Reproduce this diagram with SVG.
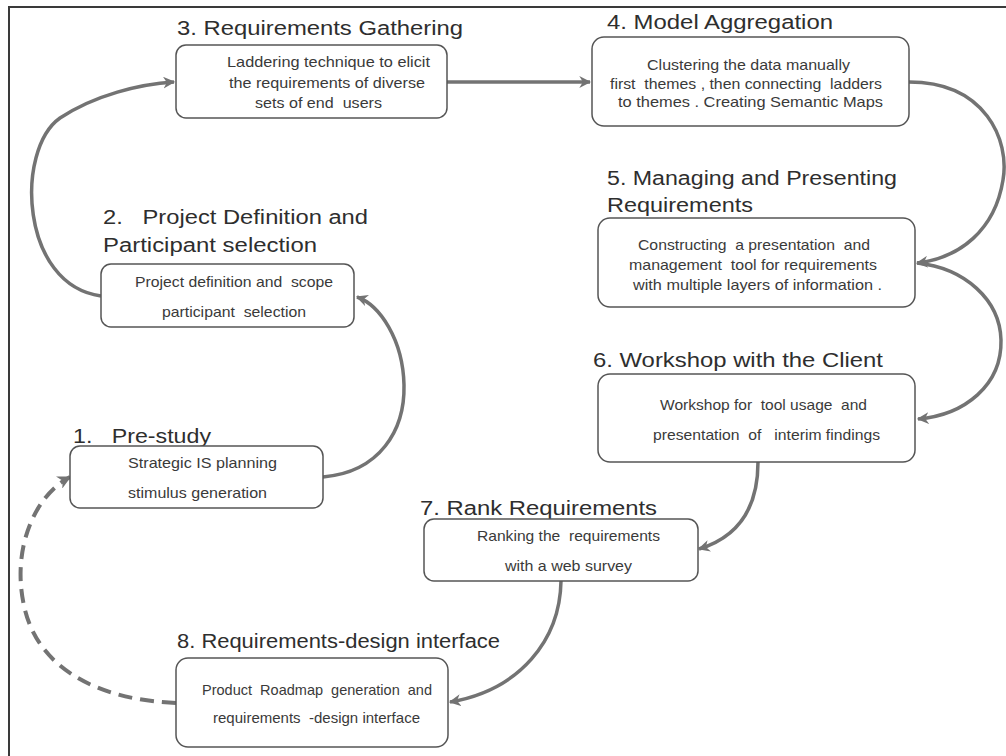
<svg xmlns="http://www.w3.org/2000/svg" width="1006" height="756" viewBox="0 0 1006 756">
  <style>
    .frame { stroke: #3a3a3a; stroke-width: 2; fill: none; }
    .box { fill: #ffffff; stroke: #555555; stroke-width: 1.5; }
    .title { font-family: "Liberation Sans", Arial, sans-serif; font-size: 20px; fill: #2e2e2e; }
    .body { font-family: "Liberation Sans", Arial, sans-serif; font-size: 15px; fill: #3a3a3a; }
    .flow { fill: none; stroke: #737373; stroke-width: 3.5; stroke-linecap: butt; }
    .dashed { stroke-dasharray: 14 8; stroke-width: 4; }
  </style>
  <defs>
    <marker id="arrow" viewBox="0 0 10 10" refX="9" refY="5" markerWidth="3.4" markerHeight="3.4" orient="auto" markerUnits="strokeWidth">
      <path d="M0,0 L10,5 L0,10 L3,5 Z" fill="#737373"/>
    </marker>
  </defs>

  <rect width="1006" height="756" fill="#ffffff"/>
  <!-- outer frame: top and left edges -->
  <path class="frame" d="M9,756 L9,7 L1006,7"/>

  <!-- connectors -->
  <g id="connectors">
    <path class="flow" marker-end="url(#arrow)" d="M101,296 C 20,285 15,150 60,118 C 95,95 140,84 174,82"/>
    <path class="flow" marker-end="url(#arrow)" d="M447,82 L590,82"/>
    <path class="flow" marker-end="url(#arrow)" d="M909,82 C 985,82 1010,140 1003,180 C 995,230 960,258 917,263"/>
    <path class="flow" marker-end="url(#arrow)" d="M917,263 C 965,268 1000,300 1001,340 C 1002,385 965,415 918,419"/>
    <path class="flow" marker-end="url(#arrow)" d="M758,462 C 758,500 745,535 699,549"/>
    <path class="flow" marker-end="url(#arrow)" d="M561,581 C 560,640 520,690 450,702"/>
    <path class="flow" marker-end="url(#arrow)" d="M323,477 C 380,472 405,430 404,385 C 403,340 380,305 357,297"/>
    <path class="flow dashed" marker-end="url(#arrow)" d="M176,703 C 100,700 40,670 25,610 C 10,550 35,495 70,477"/>
  </g>

  <!-- 1. Pre-study -->
  <g id="node1">
    <text class="title" x="73" y="443" textLength="138" lengthAdjust="spacingAndGlyphs" xml:space="preserve">1.   Pre-study</text>
    <rect class="box" x="70" y="446" width="253" height="62" rx="10"/>
    <text class="body" x="128" y="468" textLength="149" lengthAdjust="spacingAndGlyphs">Strategic IS planning</text>
    <text class="body" x="128" y="498" textLength="139" lengthAdjust="spacingAndGlyphs">stimulus generation</text>
  </g>

  <!-- 2. Project Definition and Participant selection -->
  <g id="node2">
    <text class="title" x="103" y="224" textLength="265" lengthAdjust="spacingAndGlyphs" xml:space="preserve">2.   Project Definition and</text>
    <text class="title" x="103" y="252" textLength="214" lengthAdjust="spacingAndGlyphs">Participant selection</text>
    <rect class="box" x="101" y="264" width="253" height="63" rx="10"/>
    <text class="body" x="135" y="287" textLength="198" lengthAdjust="spacingAndGlyphs" xml:space="preserve">Project definition and  scope</text>
    <text class="body" x="162" y="317" textLength="144" lengthAdjust="spacingAndGlyphs" xml:space="preserve">participant  selection</text>
  </g>

  <!-- 3. Requirements Gathering -->
  <g id="node3">
    <text class="title" x="177" y="35" textLength="286" lengthAdjust="spacingAndGlyphs">3. Requirements Gathering</text>
    <rect class="box" x="176" y="45" width="271" height="73" rx="10"/>
    <text class="body" x="227" y="67" textLength="203" lengthAdjust="spacingAndGlyphs">Laddering technique to elicit</text>
    <text class="body" x="229" y="88" textLength="196" lengthAdjust="spacingAndGlyphs">the requirements of diverse</text>
    <text class="body" x="255" y="108" textLength="127" lengthAdjust="spacingAndGlyphs" xml:space="preserve">sets of end  users</text>
  </g>

  <!-- 4. Model Aggregation -->
  <g id="node4">
    <text class="title" x="607" y="29" textLength="226" lengthAdjust="spacingAndGlyphs">4. Model Aggregation</text>
    <rect class="box" x="592" y="37" width="317" height="89" rx="12"/>
    <text class="body" x="647" y="70" textLength="203" lengthAdjust="spacingAndGlyphs">Clustering the data manually</text>
    <text class="body" x="610" y="89" textLength="272" lengthAdjust="spacingAndGlyphs" xml:space="preserve">first  themes , then connecting  ladders</text>
    <text class="body" x="618" y="107" textLength="265" lengthAdjust="spacingAndGlyphs">to themes . Creating Semantic Maps</text>
  </g>

  <!-- 5. Managing and Presenting Requirements -->
  <g id="node5">
    <text class="title" x="607" y="185" textLength="290" lengthAdjust="spacingAndGlyphs">5. Managing and Presenting</text>
    <text class="title" x="607" y="212" textLength="146" lengthAdjust="spacingAndGlyphs">Requirements</text>
    <rect class="box" x="598" y="218" width="317" height="89" rx="12"/>
    <text class="body" x="638" y="250" textLength="232" lengthAdjust="spacingAndGlyphs" xml:space="preserve">Constructing  a presentation  and</text>
    <text class="body" x="629" y="270" textLength="248" lengthAdjust="spacingAndGlyphs" xml:space="preserve">management  tool for requirements</text>
    <text class="body" x="633" y="290" textLength="249" lengthAdjust="spacingAndGlyphs">with multiple layers of information .</text>
  </g>

  <!-- 6. Workshop with the Client -->
  <g id="node6">
    <text class="title" x="593" y="367" textLength="290" lengthAdjust="spacingAndGlyphs">6. Workshop with the Client</text>
    <rect class="box" x="598" y="374" width="317" height="88" rx="12"/>
    <text class="body" x="660" y="410" textLength="207" lengthAdjust="spacingAndGlyphs" xml:space="preserve">Workshop for  tool usage  and</text>
    <text class="body" x="653" y="440" textLength="227" lengthAdjust="spacingAndGlyphs" xml:space="preserve">presentation  of   interim findings</text>
  </g>

  <!-- 7. Rank Requirements -->
  <g id="node7">
    <text class="title" x="420" y="515" textLength="237" lengthAdjust="spacingAndGlyphs">7. Rank Requirements</text>
    <rect class="box" x="424" y="519" width="274" height="62" rx="10"/>
    <text class="body" x="477" y="541" textLength="183" lengthAdjust="spacingAndGlyphs" xml:space="preserve">Ranking the  requirements</text>
    <text class="body" x="505" y="571" textLength="127" lengthAdjust="spacingAndGlyphs">with a web survey</text>
  </g>

  <!-- 8. Requirements-design interface -->
  <g id="node8">
    <text class="title" x="177" y="648" textLength="323" lengthAdjust="spacingAndGlyphs">8. Requirements-design interface</text>
    <rect class="box" x="176" y="658" width="272" height="89" rx="12"/>
    <text class="body" x="202" y="695" textLength="230" lengthAdjust="spacingAndGlyphs" xml:space="preserve">Product  Roadmap  generation  and</text>
    <text class="body" x="213" y="723" textLength="207" lengthAdjust="spacingAndGlyphs" xml:space="preserve">requirements  -design interface</text>
  </g>
</svg>
